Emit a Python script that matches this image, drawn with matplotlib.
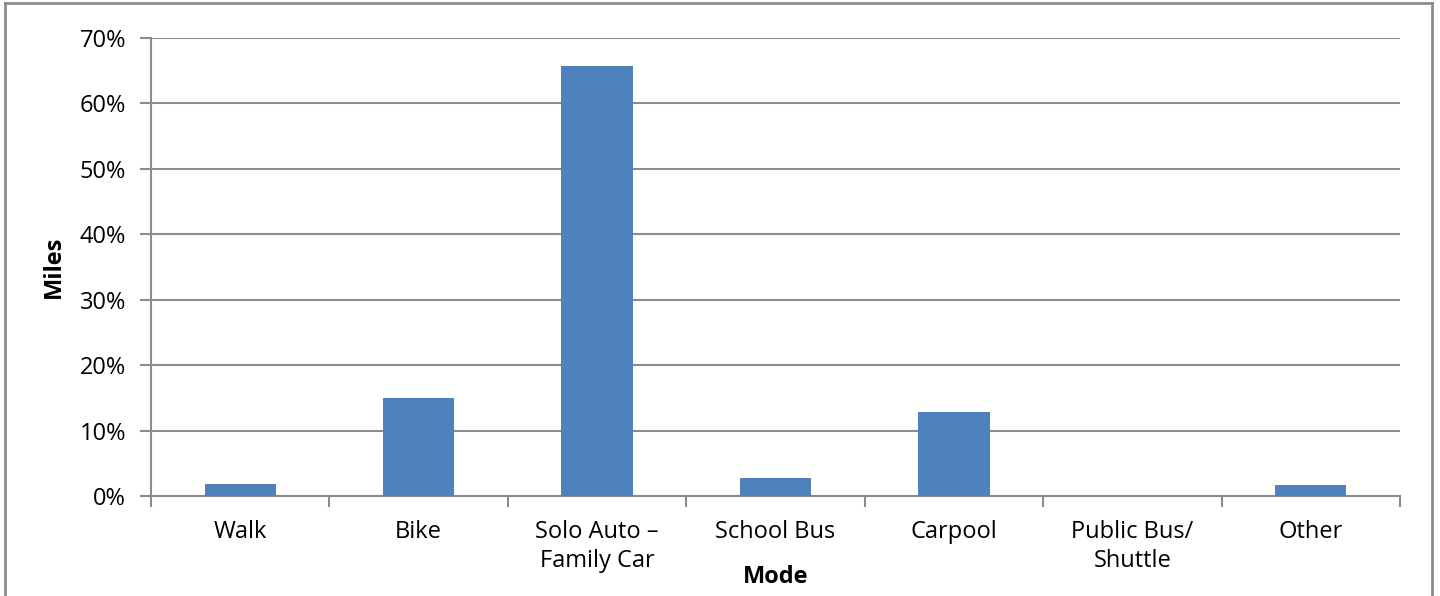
import matplotlib.pyplot as plt
import numpy as np
from matplotlib.ticker import PercentFormatter, FixedLocator
from matplotlib.lines import Line2D

# Mode share data
modes = ["Walk", "Bike", "Solo Auto –\nFamily Car", "School Bus", "Carpool",
         "Public Bus/\nShuttle", "Other"]
share = [1.8, 15.0, 65.7, 2.8, 12.8, 0.0, 1.7]

plt.rcParams['font.family'] = ['Open Sans', 'DejaVu Sans']
grid_color = "#8c8c8c"
fs = 17

fig = plt.figure(figsize=(14.4, 5.96), dpi=100)
ax = fig.add_axes([151 / 1440, 100 / 596, 1249 / 1440, 458 / 596])

x = np.arange(len(modes))
ax.bar(x, share, width=0.4, color="#4F81BD", zorder=3)

ax.set_xlim(-0.5, len(modes) - 0.5)
ax.set_ylim(0, 70)
ax.set_yticks(np.arange(0, 71, 10))
ax.yaxis.set_major_formatter(PercentFormatter(decimals=0))
ax.grid(axis="y", color=grid_color, linewidth=1.5, zorder=0)

# category labels centred, ticks at the boundaries
ax.set_xticks(x)
ax.set_xticklabels(modes, fontsize=fs, linespacing=1.3)
ax.tick_params(axis="x", which="major", length=0, pad=17)
ax.xaxis.set_minor_locator(FixedLocator(np.arange(-0.5, len(modes), 1.0)))
ax.tick_params(axis="x", which="minor", length=8, width=1.5, color=grid_color)
ax.tick_params(axis="y", length=8, width=1.5, color=grid_color, labelsize=fs, pad=10)

for side in ["top", "right"]:
    ax.spines[side].set_visible(False)
for side in ["left", "bottom"]:
    ax.spines[side].set_color(grid_color)
    ax.spines[side].set_linewidth(1.5)

ax.set_ylabel("Miles", fontsize=fs, fontweight="bold", labelpad=10)
ax.set_xlabel("Mode", fontsize=fs, fontweight="bold", labelpad=-6)

# outer chart-area border (bottom edge runs off the image)
bx0, bx1, by = 5 / 1440, 1432 / 1440, 1 - 3 / 596
for xs, ys in [([bx0, bx0], [-0.1, by]), ([bx0, bx1], [by, by]), ([bx1, bx1], [by, -0.1])]:
    fig.add_artist(Line2D(xs, ys, transform=fig.transFigure, color=grid_color, linewidth=2))

fig.savefig("out.png", dpi=100)
